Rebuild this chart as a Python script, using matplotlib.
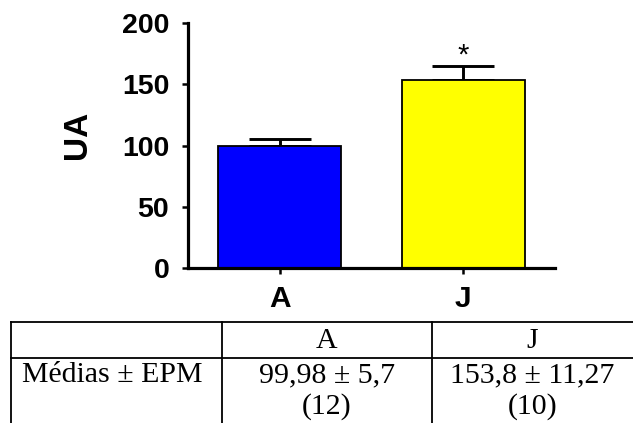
import matplotlib
matplotlib.use("Agg")
import matplotlib.pyplot as plt
from matplotlib.lines import Line2D

# ---- data ----
categories = ["A", "J"]
means = [99.98, 153.8]
sems = [5.7, 11.27]
n_counts = [12, 10]
bar_colors = ["#0000FF", "#FFFF00"]
y_ticks = [0, 50, 100, 150, 200]
signif = ["", "*"]

W, H = 633, 423
fig = plt.figure(figsize=(W / 100, H / 100), dpi=100)

ax = fig.add_axes([188 / W, 1 - 268 / H, (555 - 188) / W, (268 - 23) / H])
x = list(range(len(categories)))
ax.bar(x, means, width=0.67, color=bar_colors, edgecolor="black", linewidth=1.3, zorder=2)
ax.errorbar(x, means, yerr=[[0] * len(sems), sems], fmt="none", ecolor="black",
            elinewidth=2.1, capsize=22, capthick=2.1, zorder=1)
for xi, m, s, sg in zip(x, means, sems, signif):
    if sg:
        ax.text(xi, m + s + 8, sg, ha="center", va="center", fontsize=21,
                family="Liberation Sans")

ax.set_xlim(-0.5, 1.5)
ax.set_ylim(0, 200)
ax.set_yticks(y_ticks)
ax.set_xticks(x)
ax.set_xticklabels(categories)
for sp in ["top", "right"]:
    ax.spines[sp].set_visible(False)
for sp in ["left", "bottom"]:
    ax.spines[sp].set_linewidth(2.3)
ax.tick_params(axis="y", length=4.5, width=1.8, pad=9, labelsize=20.5)
ax.tick_params(axis="x", length=4, width=1.8, pad=8, labelsize=21.5)
for lab in ax.get_xticklabels() + ax.get_yticklabels():
    lab.set_family("Liberation Sans")
    lab.set_fontweight("bold")

fig.text(78 / W, 1 - 134.5 / H, "UA", rotation=90, ha="center", va="center",
         fontsize=24, fontweight="bold", family="Liberation Sans")

# ---- table ----
def fmt(v):
    return str(v).replace(".", ",")

def fx(px):
    return px / W

def fy(py):
    return 1 - py / H

lw = 1.3
col_edges = [11, 222, 432, 633]
for yy in [322, 357.5]:
    fig.add_artist(Line2D([fx(11), fx(633)], [fy(yy), fy(yy)], color="black", lw=lw))
for xx in col_edges[:3]:
    fig.add_artist(Line2D([fx(xx), fx(xx)], [fy(322), fy(423)], color="black", lw=lw))

tfont = dict(family="Liberation Serif", fontsize=21.5, ha="center", va="center")
fig.text(fx(112), fy(375), "Médias ± EPM", **tfont)
for i, c in enumerate(categories):
    cx = (col_edges[i + 1] + col_edges[i + 2]) / 2
    fig.text(fx(cx), fy(341), c, **tfont)
    fig.text(fx(cx), fy(375), f"{fmt(means[i])} ± {fmt(sems[i])}", **tfont)
    fig.text(fx(cx), fy(407), f"({n_counts[i]})", **tfont)

fig.savefig("out.png", dpi=100)
